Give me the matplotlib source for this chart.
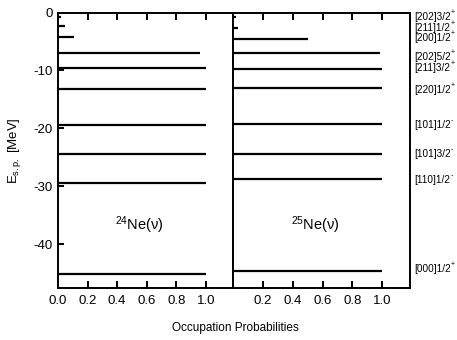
import numpy as np
import matplotlib
matplotlib.use("Agg")
import matplotlib.pyplot as plt
import matplotlib.transforms as mtransforms

plt.rcParams['font.family'] = ['Liberation Sans', 'DejaVu Sans']
plt.rcParams['mathtext.fontset'] = 'custom'
plt.rcParams['mathtext.rm'] = 'Liberation Sans'
plt.rcParams['mathtext.it'] = 'Liberation Sans:italic'
plt.rcParams['mathtext.bf'] = 'Liberation Sans:bold'

# single-particle energies (MeV) and occupation probabilities
e_24ne = [-0.75, -2.4, -4.25, -6.9, -9.6, -13.2, -19.4, -24.5, -29.5, -45.2]
occ_24ne = [0.02, 0.05, 0.11, 0.96, 1.0, 1.0, 1.0, 1.0, 1.0, 1.0]

e_25ne = [-0.7, -2.7, -4.5, -7.0, -9.7, -13.1, -19.3, -24.5, -28.7, -44.6]
occ_25ne = [0.02, 0.03, 0.5, 0.985, 1.0, 1.0, 1.0, 1.0, 1.0, 1.0]

# Nilsson labels on the right (name, parity)
nilsson = ["[202]3/2", "[211]1/2", "[200]1/2", "[202]5/2", "[211]3/2",
           "[220]1/2", "[101]1/2", "[101]3/2", "[110]1/2", "[000]1/2"]
parity = ["+", "+", "+", "+", "+", "+", "-", "-", "-", "+"]
label_e = [-0.85, -2.65, -4.45, -7.6, -9.6, -13.35, -19.4, -24.4, -28.9, -44.4]

fig = plt.figure(figsize=(4.57, 3.40), dpi=100)
ax1 = fig.add_axes([0.127, 0.153, 0.383, 0.810])
ax2 = fig.add_axes([0.510, 0.153, 0.387, 0.810])

for ax, e, occ in [(ax1, e_24ne, occ_24ne), (ax2, e_25ne, occ_25ne)]:
    ax.hlines(e, 0, occ, colors='k', lw=1.6)
    ax.set_xlim(0, 1.185)
    ax.set_ylim(-47.6, 0)
    for s in ax.spines.values():
        s.set_linewidth(1.4)
    ax.tick_params(direction='in', top=True, length=5, width=1.4, labelsize=9.5, pad=5)

ax1.set_xticks([0.0, 0.2, 0.4, 0.6, 0.8, 1.0])
ax1.set_xticklabels(["0.0", "0.2", "0.4", "0.6", "0.8", "1.0"])
ax1.set_yticks([0, -10, -20, -30, -40])
ax1.set_yticklabels(["0", "-10", "-20", "-30", "-40"])
ax1.tick_params(axis='y', length=4, pad=4)
ax1.set_ylabel("E$_{\\mathrm{s.p.}}$ [MeV]", fontsize=9.5, labelpad=7)

ax2.set_xticks([0.2, 0.4, 0.6, 0.8, 1.0])
ax2.set_xticklabels(["0.2", "0.4", "0.6", "0.8", "1.0"])
ax2.set_yticks([])

ax1.text(0.55, -36.7, "$^{24}$Ne(\u03bd)", fontsize=10.5, ha='center', va='center')
ax2.text(0.55, -36.7, "$^{25}$Ne(\u03bd)", fontsize=10.5, ha='center', va='center')

trans = mtransforms.blended_transform_factory(ax2.transAxes, ax2.transData)
for lab, par, y in zip(nilsson, parity, label_e):
    t = ax2.text(1.025, y, lab, transform=trans, fontsize=7.2, ha='left', va='center')
    ax2.annotate(par, xy=(1.0, 0.95), xycoords=t, fontsize=5, ha='left', va='center',
                 annotation_clip=False)

fig.text(0.515, 0.035, "Occupation Probabilities", fontsize=8.5, ha='center', va='center')

fig.savefig("out.png", dpi=100)
